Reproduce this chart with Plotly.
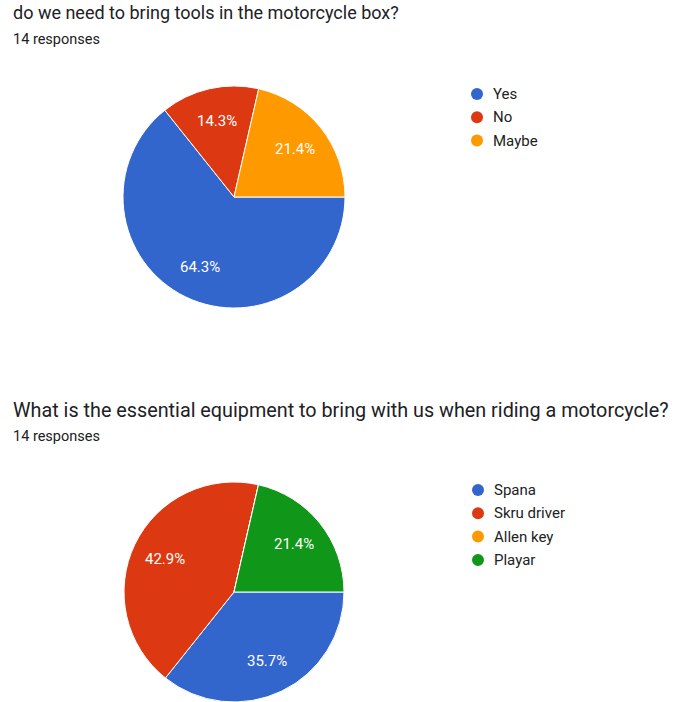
import math
import plotly.graph_objects as go

W, H = 674, 702

# Question 1
q1_title = "do we need to bring tools in the motorcycle box?"
q1_responses = "14 responses"
q1_labels = ["Yes", "No", "Maybe"]
q1_values = [9, 2, 3]
q1_colors = ["#3366cc", "#dc3912", "#ff9900"]

# Question 2
q2_title = "What is the essential equipment to bring with us when riding a motorcycle?"
q2_responses = "14 responses"
q2_labels = ["Spana", "Skru driver", "Allen key", "Playar"]
q2_values = [5, 6, 0, 3]
q2_colors = ["#3366cc", "#dc3912", "#ff9900", "#109618"]

FONT = "Roboto, Arial, sans-serif"
START_ANGLE = 90  # degrees clockwise from 12 o'clock

def px_x(x):
    return min(max(x / W, 0), 1)

def px_y(y):
    return min(max(1 - y / H, 0), 1)

fig = go.Figure()
annotations = []
shapes = []

def add_pie(labels, values, colors, cx, cy, r):
    fig.add_trace(go.Pie(
        labels=labels, values=values,
        marker=dict(colors=colors, line=dict(color="white", width=1)),
        sort=False, direction="clockwise", rotation=START_ANGLE,
        textinfo="none",
        showlegend=False, hoverinfo="label+percent",
        domain=dict(x=[px_x(cx - r), px_x(cx + r)], y=[px_y(cy + r), px_y(cy - r)]),
    ))
    # percentage labels placed on each slice's bisector, derived from the values
    total = sum(values)
    cum = 0
    lr = 0.70 * r
    for v in values:
        if v > 0:
            mid = START_ANGLE + 360 * (cum + v / 2) / total
            a = math.radians(mid)
            lx = cx + lr * math.sin(a)
            ly = cy - lr * math.cos(a)
            annotations.append(dict(
                text=f"{100 * v / total:.1f}%", x=px_x(lx), y=px_y(ly),
                xref="paper", yref="paper", xanchor="center", yanchor="middle",
                showarrow=False, font=dict(size=15, color="white", family=FONT)))
        cum += v

def add_legend(labels, colors, x0, y0, step):
    for i, (lab, col) in enumerate(zip(labels, colors)):
        y = y0 + i * step
        shapes.append(dict(type="circle", xref="paper", yref="paper",
                           xsizemode="pixel", ysizemode="pixel",
                           xanchor=px_x(x0), yanchor=px_y(y),
                           x0=-6, x1=6, y0=-6, y1=6,
                           fillcolor=col, line=dict(width=0)))
        annotations.append(dict(text=lab, x=px_x(x0 + 14), y=px_y(y),
                                xref="paper", yref="paper", xanchor="left", yanchor="middle",
                                showarrow=False, font=dict(size=15, color="#222222", family=FONT)))

add_pie(q1_labels, q1_values, q1_colors, 234, 197, 111)
add_pie(q2_labels, q2_values, q2_colors, 234, 592, 110)
add_legend(q1_labels, q1_colors, 477, 94, 23.3)
add_legend(q2_labels, q2_colors, 478, 490, 23.3)

for title, resp, ty, ry, tsize in [(q1_title, q1_responses, 13, 40, 18), (q2_title, q2_responses, 410, 436, 19.8)]:
    annotations.append(dict(text=title, x=px_x(11), y=px_y(ty), xref="paper", yref="paper",
                            xanchor="left", yanchor="middle", showarrow=False,
                            font=dict(size=tsize, color="#202124", family=FONT)))
    annotations.append(dict(text=resp, x=px_x(11), y=px_y(ry), xref="paper", yref="paper",
                            xanchor="left", yanchor="middle", showarrow=False,
                            font=dict(size=14.5, color="#202124", family=FONT)))

fig.update_layout(
    width=W, height=H,
    margin=dict(l=0, r=0, t=0, b=0),
    paper_bgcolor="white", plot_bgcolor="white",
    annotations=annotations,
    shapes=shapes,
    showlegend=False,
)

fig.write_html("out.html")
